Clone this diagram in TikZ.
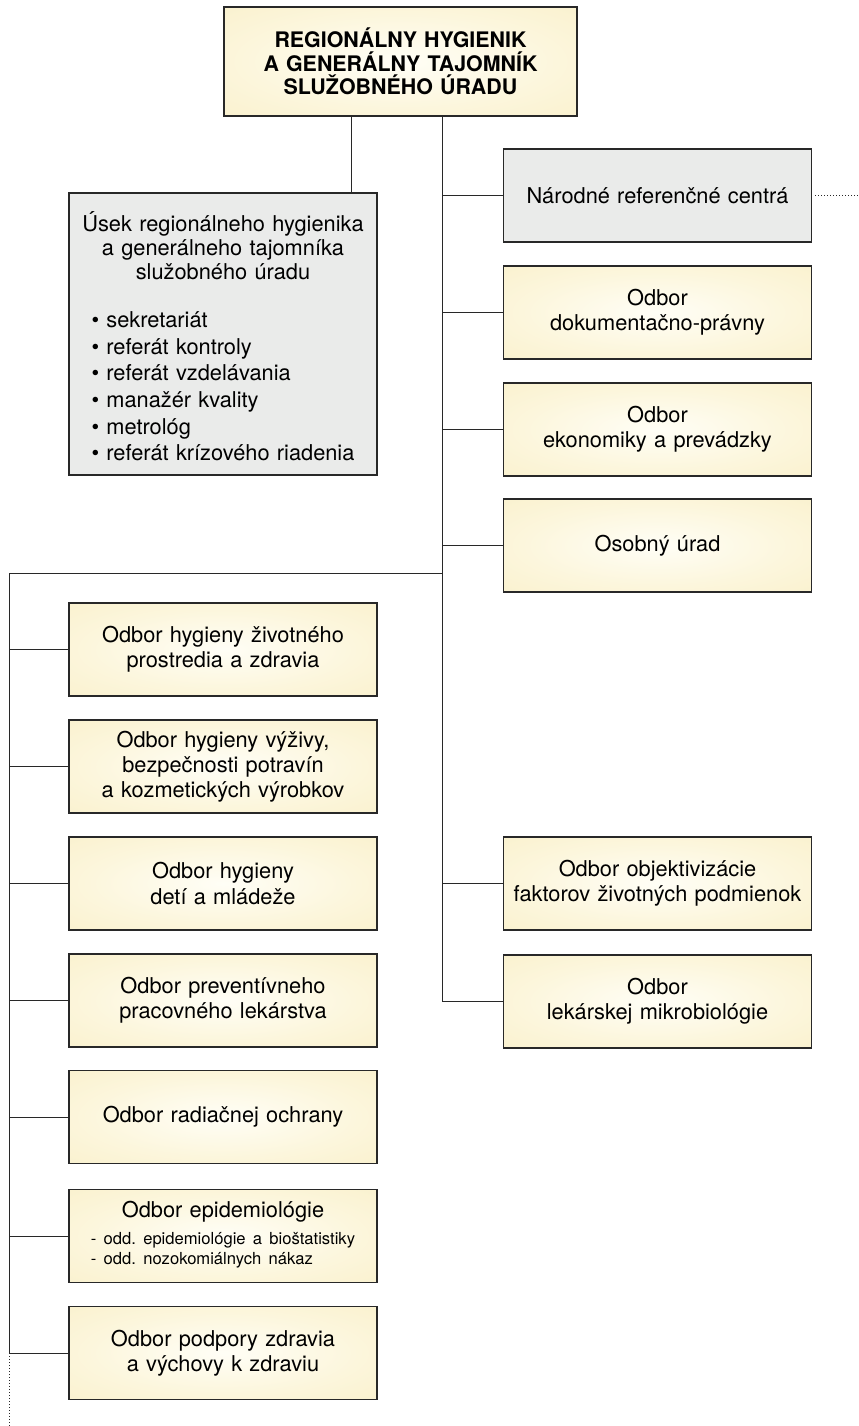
\documentclass[tikz,border=0pt]{standalone}
\usepackage{fontspec}
\setmainfont{TeX Gyre Heros}
\frenchspacing

\definecolor{okraj}{RGB}{248,237,194}
\definecolor{medzi}{RGB}{252,246,220}
\definecolor{stred}{RGB}{255,254,246}
\definecolor{sivaplocha}{RGB}{234,235,234}
\definecolor{ciara}{RGB}{40,40,40}
\pgfdeclareradialshading{odborfill}{\pgfpoint{0bp}{0bp}}{color(0bp)=(stred); color(22bp)=(medzi); color(50bp)=(okraj); color(75bp)=(okraj)}

\tikzset{
  ramcek/.style={draw=ciara, line width=0.6pt, inner sep=0pt, align=center,
    text width=154pt, minimum height=46.5pt, font=\fontsize{10.9}{12.6}\selectfont},
  odbor/.style={ramcek, shading=odborfill},
  sivy/.style={ramcek, fill=sivaplocha},
  hlavny/.style={odbor, text width=176.5pt, minimum height=54.5pt,
    font=\fontsize{10.7}{11.7}\selectfont\bfseries},
  spoj/.style={draw=ciara, line width=0.5pt},
  bodky/.style={spoj, dash pattern=on 0.5pt off 1pt}
}

\begin{document}
\begin{tikzpicture}[x=0.5pt,y=-0.5pt]
    \useasboundingbox (0,0) rectangle (858,1426);

    % vedenie
    \node[hlavny] (hyg) at (400.5,61.5) {REGIONÁLNY HYGIENIK\\A GENERÁLNY TAJOMNÍK\\SLUŽOBNÉHO ÚRADU};

    \node[sivy, minimum height=141pt] (usek) at (223,334) {\rule{0pt}{16pt}Úsek regionálneho hygienika\\[-0.6pt]a generálneho tajomníka\\[-0.6pt]služobného úradu\\[11.5pt]
      \def\arraystretch{1.06}\begin{tabular}[t]{@{}l@{}}
        \textbullet\ sekretariát\\
        \textbullet\ referát kontroly\\
        \textbullet\ referát vzdelávania\\
        \textbullet\ manažér kvality\\
        \textbullet\ metrológ\\
        \textbullet\ referát krízového riadenia
      \end{tabular}};

    % pravy stlpec
    \node[sivy] (nrc) at (657.5,195.5) {Národné referenčné centrá};
    \node[odbor] (dok) at (657.5,312.5) {Odbor\\dokumentačno-právny};
    \node[odbor] (eko) at (657.5,429.5) {Odbor\\ekonomiky a prevádzky};
    \node[odbor] (oso) at (657.5,545.5) {Osobný úrad};
    \node[odbor] (obj) at (657.5,883.5) {Odbor objektivizácie\\faktorov životných podmienok};
    \node[odbor] (lek) at (657.5,1001.5) {Odbor\\lekárskej mikrobiológie};

    % lavy stlpec
    \node[odbor] (zp) at (223,649.5) {Odbor hygieny životného\\prostredia a zdravia};
    \node[odbor] (vyz) at (223,766.5) {Odbor hygieny výživy,\\bezpečnosti potravín\\a kozmetických výrobkov};
    \node[odbor] (det) at (223,883.5) {Odbor hygieny\\detí a mládeže};
    \node[odbor] (ppl) at (223,1000.5) {Odbor preventívneho\\pracovného lekárstva};
    \node[odbor] (rad) at (223,1117) {Odbor radiačnej ochrany};
    \node[odbor] (epi) at (223,1236) {Odbor epidemiológie\\[1pt]
      {\fontsize{8.3}{10}\selectfont\begin{tabular}[t]{@{}l@{}}
        - odd. epidemiológie a bioštatistiky\\
        - odd. nozokomiálnych nákaz
      \end{tabular}}};
    \node[odbor] (pod) at (223,1353) {Odbor podpory zdravia\\a výchovy k zdraviu};

    % spojnice
    \coordinate (kmenL) at ([xshift=-24.75pt]hyg.south);
    \coordinate (kmenP) at ([xshift=20.75pt]hyg.south);
    \coordinate (rohL) at (9,573);
    \coordinate (dolu) at (9,1426);
    \coordinate (vpravo) at (858,195.5);

    \draw[spoj] (kmenL) -- (kmenL |- usek.north);
    \draw[spoj] (kmenP) -- (kmenP |- lek.west) -- (lek.west);
    \foreach \n in {nrc,dok,eko,oso,obj}
        \draw[spoj] (kmenP |- \n.west) -- (\n.west);
    \draw[spoj] (kmenP |- rohL) -- (rohL) -- (rohL |- pod.west) -- (pod.west);
    \foreach \n in {zp,vyz,det,ppl,rad,epi}
        \draw[spoj] (rohL |- \n.west) -- (\n.west);
    \draw[bodky] (rohL |- pod.west) -- (dolu);
    \draw[bodky] ([xshift=1.5pt]nrc.east) -- (vpravo);
\end{tikzpicture}
\end{document}
